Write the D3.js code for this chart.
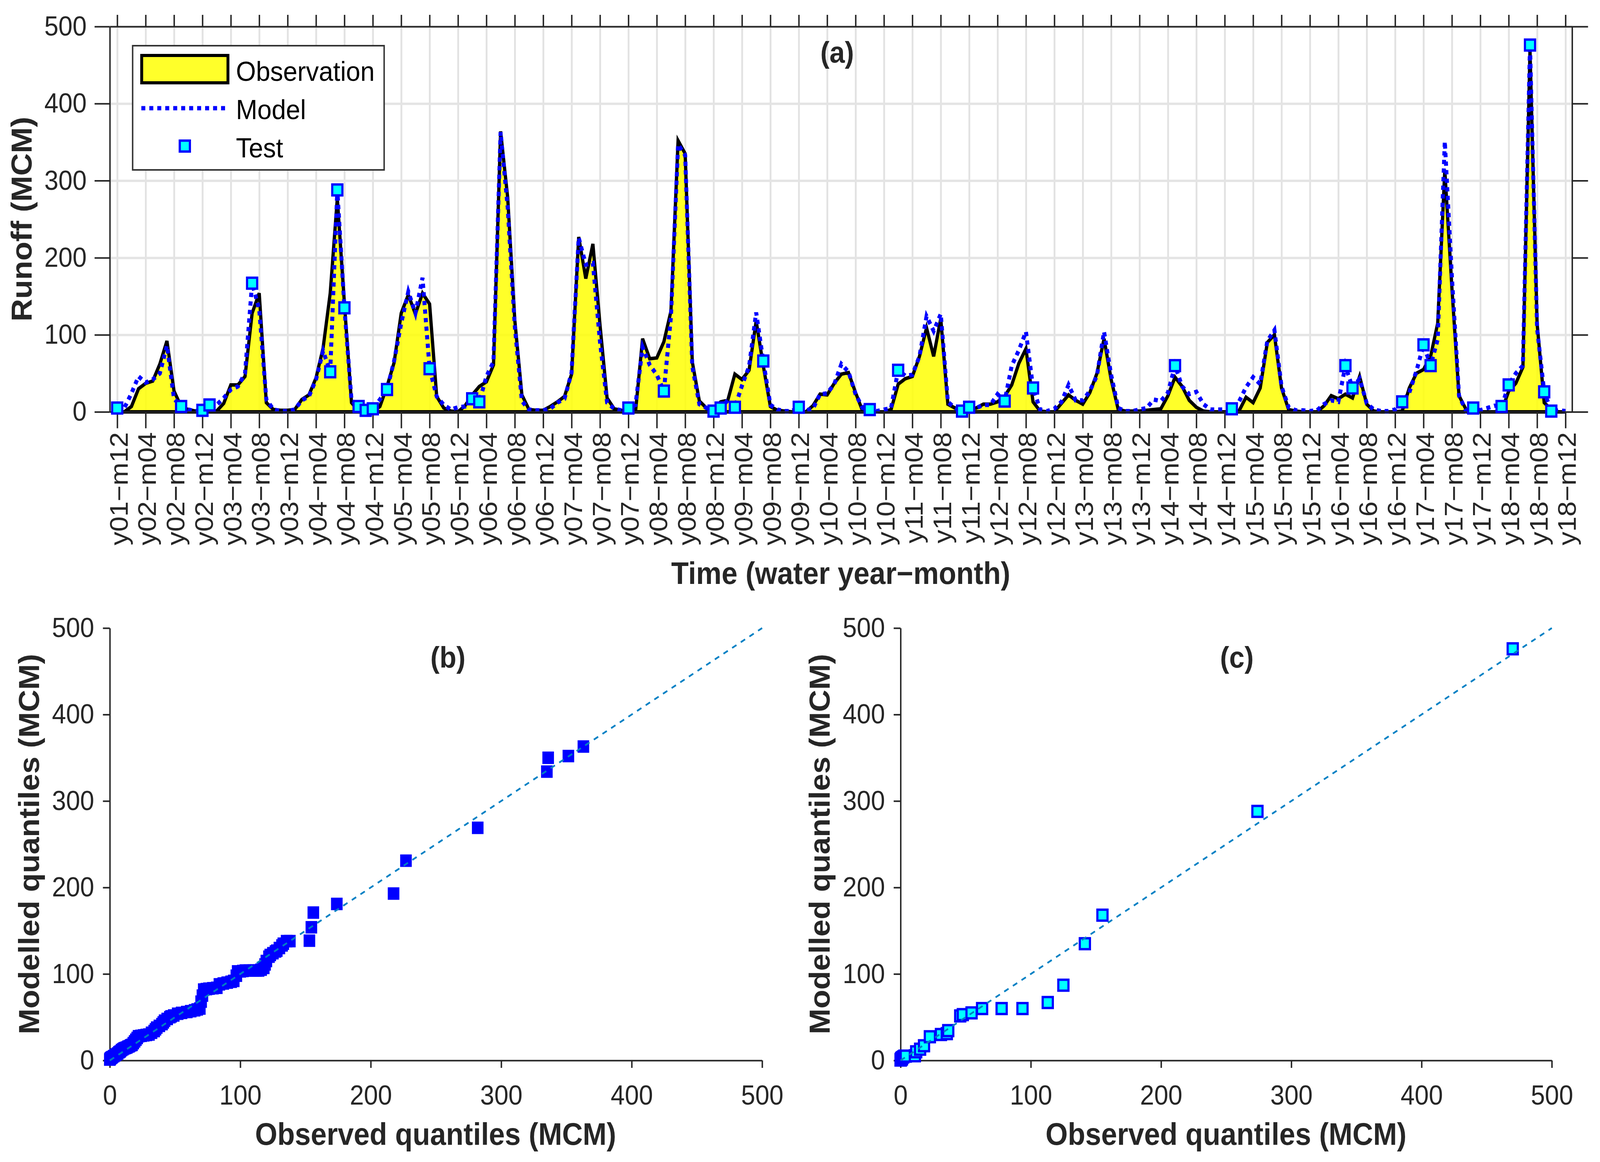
<!DOCTYPE html>
<html>
<head>
<meta charset="utf-8">
<script src="https://d3js.org/d3.v7.min.js"></script>
<style>
html,body{margin:0;padding:0;background:#fff;width:100%;height:100%;overflow:hidden}
svg{display:block;width:100vw;height:100vh}
text{font-family:"Liberation Sans",Arial,sans-serif}
</style>
</head>
<body>
<svg id="c" viewBox="0 0 4415 2975" preserveAspectRatio="none"></svg>
<script>
const observed = [
0,0,7,30,37,40,62,92,27,7,3,1,
0,1,1,11,35,35,46,128,154,12,3,2,
2,3,16,22,44,83,154,277,141,12,1,0,
0,7,33,64,128,152,127,154,140,20,5,1,
0,8,22,33,39,61,364,278,119,22,3,2,
2,7,13,20,49,227,173,218,113,18,4,2,
0,0,95,69,70,91,131,352,335,65,14,5,
2,13,15,49,42,54,118,60,7,2,1,0,
0,0,8,23,22,37,49,51,25,1,0,0,
0,3,36,43,46,72,109,72,121,10,5,6,
5,5,10,10,13,20,35,63,82,13,1,0,
0,11,22,15,10,25,50,95,42,3,1,1,
1,2,3,4,21,45,33,15,6,1,0,0,
0,0,1,19,12,31,90,100,31,3,1,0,
0,0,8,21,17,23,18,46,10,1,0,0,
0,1,31,50,55,72,115,314,161,21,3,0,
0,0,0,1,27,37,58,470,115,12,3,0,0];
const modelled = [
5,5,24,46,38,42,50,86,17,7,3,1,
2,9,9,18,29,33,50,167,133,16,3,1,
1,3,15,20,42,79,52,288,135,15,7,2,
4,16,29,66,115,156,128,174,56,20,9,3,
6,7,17,13,46,65,363,265,111,14,3,2,
2,4,12,17,51,226,191,193,91,12,4,2,
5,9,84,61,48,27,124,347,333,59,10,5,
1,5,15,6,34,59,129,66,9,3,1,1,
6,2,4,23,24,36,62,52,23,5,3,1,
3,5,54,47,48,72,124,105,127,13,5,1,
6,5,9,9,23,14,60,80,104,31,3,1,
4,13,35,15,15,27,47,104,48,5,1,1,
3,5,16,14,25,60,33,23,26,10,3,3,
3,4,13,32,45,36,92,106,33,6,2,2,
1,2,10,15,13,60,31,43,11,3,1,1,
3,13,25,53,87,60,94,351,175,21,1,5,
2,5,8,7,35,50,60,476,108,26,1,2,1];
const testIndex = [0,9,12,13,19,30,31,32,34,35,36,38,44,50,51,72,77,84,85,87,91,96,106,110,119,120,125,129,149,157,173,174,181,184,185,191,195,196,199,201,202];
const monthTicks = d3.range(0,205,4);
const monthTickLabels = ["y01−m12","y02−m04","y02−m08","y02−m12","y03−m04","y03−m08","y03−m12","y04−m04","y04−m08","y04−m12","y05−m04","y05−m08","y05−m12","y06−m04","y06−m08","y06−m12","y07−m04","y07−m08","y07−m12","y08−m04","y08−m08","y08−m12","y09−m04","y09−m08","y09−m12","y10−m04","y10−m08","y10−m12","y11−m04","y11−m08","y11−m12","y12−m04","y12−m08","y12−m12","y13−m04","y13−m08","y13−m12","y14−m04","y14−m08","y14−m12","y15−m04","y15−m08","y15−m12","y16−m04","y16−m08","y16−m12","y17−m04","y17−m08","y17−m12","y18−m04","y18−m08","y18−m12"];
const valueTicks = [0,100,200,300,400,500];
const trainObsQ = [0,0.3,0.6,1,1.5,2,3,4,5,6,7,8,9,10,11,12,13,14,15,16,17,18,19,20,21,22,24,26,28,30,32,34,35,36,38,40,41,42,44,46,47,49,52,55,59,62,65,67,69,70,71,72,74,76,79,82,84,87,90,93,95,97,98,100,102,104,107,110,112,114,116,118,119,120,122,123,125,127,128,130,132,133,135.5,138,153,154.5,156,174,217.5,227,282,335,336,351.5,363];
const trainModQ = [1,2,2.5,3,3.5,4,5,6,7,8,9.5,10.5,12,13,14,14.5,15,16,16.5,17.5,18,20,22,24,26,28,28.5,29,29.5,30,32,34,36,38,40,42,44,46,48,50,51,52,54,55,56,57,58,59,60,68,75,82,82.5,83,83.5,84,88,89,90,91,92,98,103,103,103.5,104,104,104,104,104,105,107,111,115,120,122,124,126,127,130,133,135,138,138,138.5,154,171,181,193,231,269,334,350,352,363];
const testObsQ = [0,0.1,0.1,0.2,0.2,0.3,0.3,0.5,0.5,0.5,1,1,1,1,1,2,2,2,3,3,4,11,12,15,18,22.5,31,35.5,36.6,45.8,47.8,54.5,62.6,77.6,93.6,113,125,141.5,155,274,470];
const testModQ = [0.5,0.5,1,1,1,1,1,1,2,2,2,2,3,3,3,4,4,4,5,5,5,5.4,10,13,17,27.4,30,31,34.5,51.5,53,55,60,60,60,67,87,135,168,288,476];

const ink = "#262626", font = 70;
const svg = d3.select("#c");
svg.append("rect").attr("width",4415).attr("height",2975).attr("fill","#fff");

/* ---------- panel a ---------- */
const L=303,R=4338,T=68,B=1054.5;
const xA = d3.scaleLinear().domain([-1.046,204.93]).range([L,R]);
const yA = d3.scaleLinear().domain([0,500]).range([B,T]);
const gA = svg.append("g");

function styleAxis(g,w){
  g.selectAll(".domain").attr("stroke",ink).attr("stroke-width",w);
  g.selectAll(".tick line").attr("stroke",ink).attr("stroke-width",w);
  g.selectAll("text").attr("fill",ink).attr("font-size",font).attr("font-family",'"Liberation Sans",Arial,sans-serif');
}
// grid
const gx = gA.append("g").attr("transform",`translate(0,${B})`)
  .call(d3.axisBottom(xA).tickValues(monthTicks).tickSize(-(B-T)).tickFormat(""));
gx.select(".domain").remove();
gx.selectAll(".tick line").attr("stroke","#e2e2e2").attr("stroke-width",5);
const gy = gA.append("g").attr("transform",`translate(${L},0)`)
  .call(d3.axisLeft(yA).tickValues(valueTicks).tickSize(-(R-L)).tickFormat(""));
gy.select(".domain").remove();
gy.selectAll(".tick line").attr("stroke","#e4e4e4").attr("stroke-width",6);

// area + lines
const area = d3.area().x((d,i)=>xA(i)).y0(yA(0)).y1(d=>yA(d));
const line = d3.line().x((d,i)=>xA(i)).y(d=>yA(d));
gA.append("path").datum(observed).attr("d",area).attr("fill","#ffff00").attr("fill-opacity",0.84).attr("stroke","none");
gA.append("path").attr("d",`M${xA(0)},${yA(0)}H${xA(204)}`).attr("stroke","#000").attr("stroke-width",9).attr("fill","none");
gA.append("path").datum(observed).attr("d",line).attr("fill","none").attr("stroke","#000").attr("stroke-width",9).attr("stroke-linejoin","miter");
gA.append("path").datum(modelled).attr("d",line).attr("fill","none").attr("stroke","#0000ff").attr("stroke-width",11).attr("stroke-dasharray","11 11");

// axes
const aL = gA.append("g").attr("transform",`translate(${L},0)`).call(d3.axisLeft(yA).tickValues(valueTicks).tickSize(42).tickSizeOuter(0).tickPadding(22));
styleAxis(aL,4);
const aR = gA.append("g").attr("transform",`translate(${R},0)`).call(d3.axisRight(yA).tickValues(valueTicks).tickSize(44).tickSizeOuter(0).tickFormat(""));
styleAxis(aR,4);
const aT = gA.append("g").attr("transform",`translate(0,${T})`).call(d3.axisTop(xA).tickValues(monthTicks).tickSize(30).tickSizeOuter(0).tickFormat(""));
styleAxis(aT,4);
const aB = gA.append("g").attr("transform",`translate(0,${B})`).call(d3.axisBottom(xA).tickValues(monthTicks).tickSize(42).tickSizeOuter(0).tickFormat((d,i)=>monthTickLabels[i]));
styleAxis(aB,4);
aB.selectAll("text").attr("transform","rotate(-90)").attr("text-anchor","end").attr("x",-52).attr("y",3).attr("dy","0.36em");

// test markers
gA.selectAll("rect.t").data(testIndex).join("rect").attr("class","t")
  .attr("x",d=>xA(d)-14).attr("y",d=>yA(modelled[d])-14).attr("width",28).attr("height",28)
  .attr("fill","#00ffff").attr("stroke","#0000ff").attr("stroke-width",6);

// labels
function label(t,x,y,rot,size,anchor){
  svg.append("text").text(t).attr("transform",`translate(${x},${y})`+(rot?` rotate(${rot})`:""))
    .attr("text-anchor",anchor||"middle").attr("font-weight","bold").attr("font-size",size||79).attr("fill",ink);
}
label("Runoff (MCM)",87,561,-90,80);
label("Time (water year−month)",2320,1495,0,79);
label("(a)",2310,160,0,76);
label("(b)",1236,1709,0,76);
label("(c)",3413,1709,0,76);

// legend
const lg = svg.append("g");
lg.append("rect").attr("x",366).attr("y",117).attr("width",694).attr("height",318).attr("fill","#fff").attr("stroke","#333").attr("stroke-width",4);
lg.append("rect").attr("x",391).attr("y",142).attr("width",238).attr("height",70).attr("fill","#ffff2a").attr("stroke","#000").attr("stroke-width",8);
lg.append("line").attr("x1",390).attr("x2",632).attr("y1",277).attr("y2",277).attr("stroke","#0000ff").attr("stroke-width",11).attr("stroke-dasharray","11 11");
lg.append("rect").attr("x",496).attr("y",360).attr("width",28).attr("height",28).attr("fill","#00ffff").attr("stroke","#0000ff").attr("stroke-width",6);
[["Observation",207],["Model",305],["Test",403]].forEach(([t,y])=>{
  lg.append("text").text(t).attr("x",651).attr("y",y).attr("font-size",71).attr("fill","#000");
});

/* ---------- panels b, c ---------- */
function qq(x0,xPerUnit,obs,mod,solid,labelBaseX,labelCx){
  const yB=2715,yT=1608;
  const x=d3.scaleLinear().domain([0,500]).range([x0,x0+500*xPerUnit]);
  const y=d3.scaleLinear().domain([0,500]).range([yB,yT]);
  const g=svg.append("g");
  const ax=g.append("g").attr("transform",`translate(0,${yB})`).call(d3.axisBottom(x).tickValues(valueTicks).tickSize(19).tickSizeOuter(0).tickPadding(40));
  styleAxis(ax,4);
  ax.selectAll("text").attr("dy",0).attr("y",113);
  const ay=g.append("g").attr("transform",`translate(${x0},0)`).call(d3.axisLeft(y).tickValues(valueTicks).tickSize(19).tickSizeOuter(0).tickPadding(24));
  styleAxis(ay,4);
  g.selectAll("rect.p").data(obs.map((o,i)=>[o,mod[i]])).join("rect").attr("class","p")
    .attr("x",d=>x(d[0])-(solid?16:14)).attr("y",d=>y(d[1])-(solid?16:14))
    .attr("width",solid?32:28).attr("height",solid?32:28)
    .attr("fill",solid?"#0000ff":"#00ffff").attr("stroke",solid?"none":"#0000ff").attr("stroke-width",solid?0:6);
  g.append("line").attr("x1",x(0)).attr("y1",y(0)).attr("x2",x(500)).attr("y2",y(500))
    .attr("stroke","#0080c4").attr("stroke-width",4.5).attr("stroke-dasharray","14 14");
  label("Modelled quantiles (MCM)",labelBaseX,2161,-90,79);
  label("Observed quantiles (MCM)",labelCx,2931,0,79);
}
qq(303,3.6,trainObsQ,trainModQ,true,108,1202);
qq(2485,3.594,testObsQ,testModQ,false,2289,3383);
</script>
</body>
</html>
